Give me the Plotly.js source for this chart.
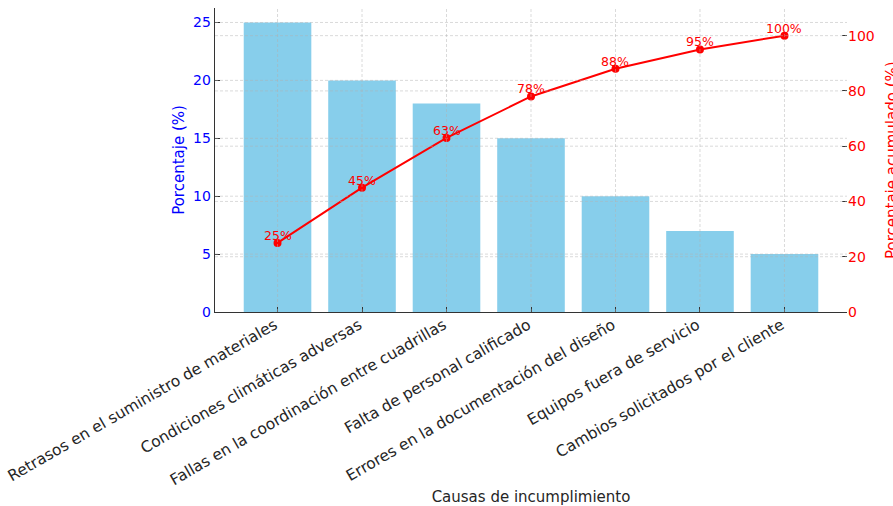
<!DOCTYPE html>
<html>
<head>
<meta charset="utf-8">
<script src="https://cdn.plot.ly/plotly-3.0.1.min.js"></script>
<style>html,body{margin:0;padding:0;background:#fff;}#chart{width:893px;height:506px;}</style>
</head>
<body>
<div id="chart"></div>
<script>
const categories = [
  "Retrasos en el suministro de materiales",
  "Condiciones climáticas adversas",
  "Fallas en la coordinación entre cuadrillas",
  "Falta de personal calificado",
  "Errores en la documentación del diseño",
  "Equipos fuera de servicio",
  "Cambios solicitados por el cliente"
];
const percentages = [25, 20, 18, 15, 10, 7, 5];
const cumulative = [25, 45, 63, 78, 88, 95, 100];
const cumulativeLabels = ["25%", "45%", "63%", "78%", "88%", "95%", "100%"];
const leftTicks = [0, 5, 10, 15, 20, 25];
const rightTicks = [0, 20, 40, 60, 80, 100];

const FONT = "DejaVu Sans, sans-serif";
const idx = categories.map((_, i) => i);

const bars = {
  type: "bar",
  x: idx,
  y: percentages,
  marker: {color: "#87CEEB"},
  yaxis: "y",
  hoverinfo: "skip",
  showlegend: false
};
const line = {
  type: "scatter",
  mode: "lines+markers",
  x: idx,
  y: cumulative,
  yaxis: "y2",
  line: {color: "#ff0000", width: 2},
  marker: {color: "#ff0000", size: 8},
  hoverinfo: "skip",
  showlegend: false
};

const annotations = cumulative.map((v, i) => ({
  x: i, y: v, xref: "x", yref: "y2",
  text: cumulativeLabels[i],
  showarrow: false,
  xanchor: "center", yanchor: "bottom", yshift: -2,
  font: {family: FONT, size: 12.5, color: "#ff0000"}
}));
annotations.push({
  xref: "paper", yref: "paper", x: 1, y: 0.5,
  text: "Porcentaje acumulado (%)", textangle: -90,
  showarrow: false, xanchor: "left", yanchor: "middle", xshift: 34,
  font: {family: FONT, size: 15, color: "#ff0000"}
});

// grid drawn above the bars, as in the reference (matplotlib twin-axis grid)
const gridStyle = {color: "rgba(176,176,176,0.6)", width: 0.8, dash: "3px,2px"};
const shapes = [];
idx.forEach(v => shapes.push({type: "line", layer: "above", xref: "x", yref: "paper", x0: v, x1: v, y0: 0, y1: 1, line: gridStyle}));
leftTicks.filter(v => v > 0).forEach(v => shapes.push({type: "line", layer: "above", xref: "paper", yref: "y", x0: 0, x1: 1, y0: v, y1: v, line: gridStyle}));
rightTicks.filter(v => v > 0).forEach(v => shapes.push({type: "line", layer: "above", xref: "paper", yref: "y2", x0: 0, x1: 1, y0: v, y1: v, line: gridStyle}));

const layout = {
  width: 893, height: 506,
  margin: {l: 215, r: 46, t: 8, b: 194},
  paper_bgcolor: "#ffffff", plot_bgcolor: "#ffffff",
  font: {family: FONT, size: 14, color: "#262626"},
  bargap: 0.2,
  xaxis: {
    range: [-0.74, 6.74],
    tickmode: "array", tickvals: idx, ticktext: categories,
    tickangle: -30,
    tickfont: {family: FONT, size: 15.5, color: "#262626"},
    ticklabelstandoff: -3, ticklabelshift: -3,
    ticks: "inside", ticklen: 5, tickcolor: "#333333",
    showline: true, linecolor: "#333333", linewidth: 1.25,
    showgrid: false,
    zeroline: false,
    automargin: false,
    title: {text: "Causas de incumplimiento", font: {family: FONT, size: 15, color: "#262626"}, standoff: 17}
  },
  yaxis: {
    range: [0, 26.25],
    tickmode: "array", tickvals: leftTicks,
    tickfont: {family: FONT, size: 14, color: "#0000ff"},
    ticks: "inside", ticklen: 5, tickcolor: "#333333",
    showline: true, linecolor: "#333333", linewidth: 1.25,
    showgrid: false,
    zeroline: false,
    automargin: false,
    title: {text: "Porcentaje (%)", font: {family: FONT, size: 15, color: "#0000ff"}, standoff: 4}
  },
  yaxis2: {
    overlaying: "y", side: "right",
    range: [0, 110],
    tickmode: "array", tickvals: rightTicks,
    tickfont: {family: FONT, size: 14, color: "#ff0000"},
    ticks: "inside", ticklen: 5, tickcolor: "#333333",
    showline: false,
    showgrid: false,
    zeroline: false,
    automargin: false
  },
  shapes: shapes,
  annotations: annotations
};

Plotly.newPlot("chart", [bars, line], layout, {displayModeBar: false, staticPlot: true});
</script>
</body>
</html>
